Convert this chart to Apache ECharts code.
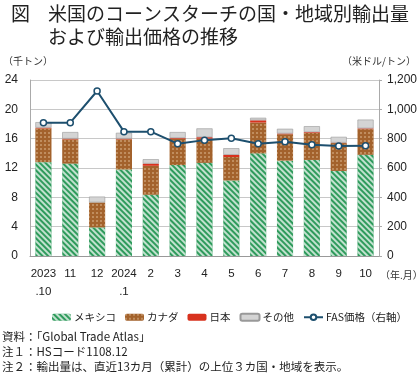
<!DOCTYPE html>
<html>
<head>
<meta charset="utf-8">
<script src="https://cdn.jsdelivr.net/npm/echarts@6/dist/echarts.min.js"></script>
<style>
  html, body { margin: 0; padding: 0; background: #fff; }
  #chart { width: 420px; height: 375px; }
</style>
</head>
<body>
<div id="chart"></div>
<script>
// 年月
const months = ["2023\n.10", "11", "12", "2024\n.1", "2", "3", "4", "5", "6", "7", "8", "9", "10"];
// 輸出量（千トン）
const mexico = [12.8, 12.6, 3.9, 11.8, 8.35, 12.4, 12.7, 10.3, 14.0, 13.0, 13.1, 11.6, 13.8];
const canada = [4.6, 3.3, 3.4, 4.1, 3.95, 3.6, 3.3, 3.2, 4.2, 3.6, 3.7, 3.8, 3.5];
const japan = [0.1, 0.1, 0, 0.1, 0.3, 0.1, 0.2, 0.3, 0.3, 0.1, 0.1, 0.05, 0.1];
const others = [0.75, 0.9, 0.8, 0.8, 0.6, 0.8, 1.2, 0.9, 0.35, 0.65, 0.8, 0.8, 1.2];
// FAS価格（米ドル/トン）
const fasPrice = [909, 909, 1125, 848, 848, 766, 790, 803, 765, 779, 758, 750, 752];

const FONT = "'Liberation Sans', 'Noto Sans CJK JP', sans-serif";
const JP = "'Noto Sans CJK JP', sans-serif";

const chart = echarts.init(document.getElementById("chart"));

chart.setOption({
  animation: false,
  textStyle: { fontFamily: FONT, color: "#222" },
  grid: { left: 30, right: 41, top: 80, bottom: 119 },
  graphic: [
    { type: "text", left: 11, top: 4, style: { text: "図", font: "19px " + JP, fill: "#222" } },
    { type: "text", left: 48, top: 4, style: { text: "米国のコーンスターチの国・地域別輸出量", font: "19px " + JP, fill: "#222" } },
    { type: "text", left: 48, top: 27, style: { text: "および輸出価格の推移", font: "19px " + JP, fill: "#222" } },
    { type: "text", left: 3, top: 56, style: { text: "（千トン）", font: "10px " + JP, fill: "#333" } },
    { type: "text", right: 4, top: 56, style: { text: "（米ドル/トン）", font: "10px " + JP, fill: "#333" } },
    { type: "text", left: 380, top: 270, style: { text: "（年.月）", font: "10px " + JP, fill: "#333" } },
    { type: "text", left: 2, top: 331, style: { text: "資料：「Global Trade Atlas」", font: "11.5px " + JP, fill: "#222" } },
    { type: "text", left: 2, top: 346, style: { text: "注１：HSコード1108.12", font: "11.5px " + JP, fill: "#222" } },
    { type: "text", left: 2, top: 361, style: { text: "注２：輸出量は、直近13カ月（累計）の上位３カ国・地域を表示。", font: "11.5px " + JP, fill: "#222" } }
  ],
  legend: {
    top: 312,
    left: 52,
    width: 380,
    padding: 0,
    itemWidth: 19,
    itemHeight: 7,
    itemGap: 9,
    textStyle: { fontSize: 10.5, fontFamily: JP, color: "#222", padding: [0, 0, 0, -2] },
    data: ["メキシコ", "カナダ", "日本", "その他", "FAS価格（右軸）"]
  },
  xAxis: {
    type: "category",
    data: months,
    axisLine: { lineStyle: { color: "#999" } },
    axisTick: { lineStyle: { color: "#999" }, length: 4 },
    axisLabel: { color: "#222", fontSize: 11.5, lineHeight: 18, margin: 9, interval: 0 }
  },
  yAxis: [
    {
      type: "value",
      min: 0,
      max: 24,
      interval: 4,
      axisLine: { show: true, lineStyle: { color: "#aaa" } },
      axisTick: { show: false },
      splitLine: { lineStyle: { color: "#c8c8c8" } },
      axisLabel: { color: "#222", fontSize: 12, margin: 12 }
    },
    {
      type: "value",
      min: 0,
      max: 1200,
      interval: 200,
      axisLine: { show: true, lineStyle: { color: "#aaa" } },
      axisTick: { show: true, length: 3, lineStyle: { color: "#aaa" } },
      splitLine: { show: false },
      axisLabel: {
        color: "#222",
        fontSize: 12,
        margin: 8,
        formatter: (v) => v.toLocaleString("en-US")
      }
    }
  ],
  series: [
    {
      name: "メキシコ",
      type: "bar",
      stack: "vol",
      barWidth: "60%",
      data: mexico,
      itemStyle: {
        color: "#2f9b5c",
        decal: {
          symbol: "rect",
          symbolSize: 1,
          color: "rgba(255,255,255,0.7)",
          dashArrayX: [1, 0],
          dashArrayY: [1.5, 1.5],
          rotation: Math.PI / 4
        }
      }
    },
    {
      name: "カナダ",
      type: "bar",
      stack: "vol",
      data: canada,
      itemStyle: {
        color: "#a3622c",
        decal: {
          symbol: "circle",
          symbolSize: 0.8,
          color: "rgba(240,215,180,0.85)",
          dashArrayX: 2,
          dashArrayY: 2
        }
      }
    },
    {
      name: "日本",
      type: "bar",
      stack: "vol",
      data: japan,
      itemStyle: { color: "#d8321e" }
    },
    {
      name: "その他",
      type: "bar",
      stack: "vol",
      data: others,
      itemStyle: { color: "#d4d4d4", borderColor: "#999", borderWidth: 0.6 }
    },
    {
      name: "FAS価格（右軸）",
      type: "line",
      yAxisIndex: 1,
      data: fasPrice,
      symbol: "circle",
      symbolSize: 6,
      lineStyle: { color: "#1d4f6e", width: 2 },
      itemStyle: { color: "#fff", borderColor: "#1d4f6e", borderWidth: 1.5 }
    }
  ]
});
</script>
</body>
</html>
